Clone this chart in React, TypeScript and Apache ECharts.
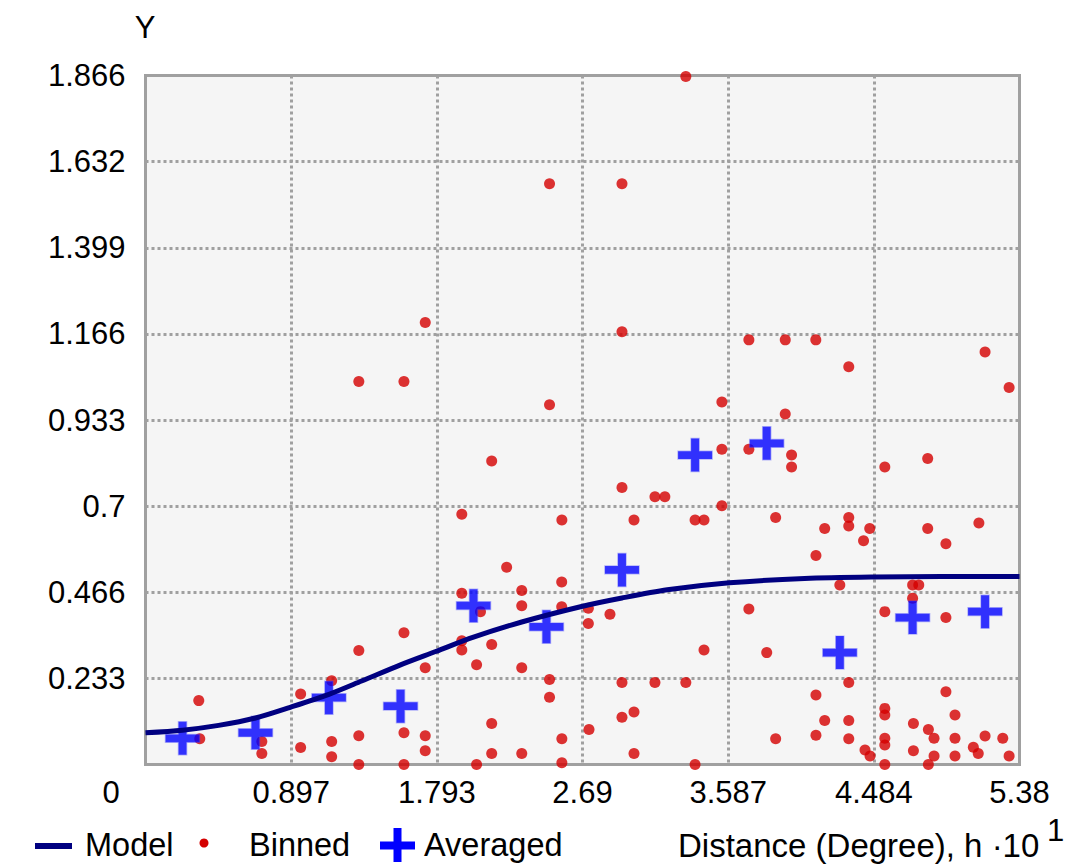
import React, { useEffect, useRef } from "react";
import * as echarts from "echarts";

const X_MAX = 5.38;
const Y_MAX = 1.866;
const xTickLabels = ["0", "0.897", "1.793", "2.69", "3.587", "4.484", "5.38"];
const yTickLabels = ["0", "0.233", "0.466", "0.7", "0.933", "1.166", "1.399", "1.632", "1.866"];

const seriesNames = ["Model", "Binned", "Averaged"];
const xAxisTitle = "Distance (Degree), h \u00b710";
const xAxisExponent = "1";
const yAxisTitle = "Y";

// Model curve
const modelPoints: [number, number][] = [
  [0, 0.086], [0.228, 0.093], [0.45, 0.106], [0.677, 0.126], [0.891, 0.155],
  [1.129, 0.19], [1.33, 0.226], [1.57, 0.27], [1.786, 0.306], [2.019, 0.345],
  [2.316, 0.386], [2.684, 0.428], [2.933, 0.451], [3.212, 0.473], [3.594, 0.492],
  [4.057, 0.504], [4.485, 0.508], [4.902, 0.509], [5.38, 0.509],
];

// Binned semivariance points
const binnedPoints: [number, number][] = [
  [1.722, 1.197], [1.313, 1.037], [1.591, 1.037],
  [3.326, 1.863], [2.487, 1.573], [2.933, 1.573], [2.933, 1.172], [3.714, 1.15],
  [3.938, 1.15], [4.126, 1.15], [4.329, 1.077], [5.168, 1.117], [5.316, 1.021],
  [2.487, 0.974], [3.548, 0.982], [3.938, 0.949],
  [2.131, 0.822], [1.947, 0.678], [2.223, 0.534], [1.947, 0.464], [2.316, 0.471],
  [2.316, 0.43], [2.062, 0.414], [1.591, 0.357], [1.313, 0.309], [1.947, 0.335],
  [1.947, 0.31], [2.131, 0.325], [1.722, 0.262], [2.038, 0.27], [2.316, 0.262],
  [1.146, 0.227], [0.955, 0.191], [0.328, 0.173], [2.131, 0.111], [1.313, 0.078],
  [1.591, 0.086], [1.722, 0.078], [0.334, 0.07], [0.716, 0.062], [1.146, 0.062],
  [0.955, 0.046], [0.716, 0.03], [1.146, 0.021], [1.722, 0.037], [2.131, 0.03],
  [2.316, 0.03], [1.313, 0.0], [1.591, 0.0], [2.038, 0.0],
  [3.548, 0.854], [3.714, 0.854], [3.977, 0.838], [3.977, 0.806], [4.551, 0.806],
  [4.815, 0.829], [2.933, 0.75], [3.136, 0.725], [3.197, 0.725], [3.548, 0.701],
  [2.563, 0.662], [3.007, 0.662], [3.383, 0.662], [3.438, 0.662], [3.879, 0.669],
  [4.329, 0.669], [4.329, 0.646], [4.181, 0.639], [4.458, 0.639], [4.815, 0.639],
  [5.13, 0.654], [4.42, 0.606], [4.927, 0.598], [4.127, 0.566], [2.562, 0.494],
  [4.274, 0.486], [4.722, 0.486], [4.76, 0.486], [4.722, 0.45], [2.562, 0.427],
  [2.726, 0.423], [2.726, 0.382], [2.859, 0.407], [3.714, 0.421], [4.551, 0.414],
  [4.927, 0.398], [3.438, 0.31], [3.824, 0.303], [2.487, 0.23], [2.487, 0.182],
  [2.933, 0.222], [3.136, 0.222], [3.326, 0.222], [4.329, 0.222], [4.127, 0.188],
  [4.927, 0.197], [2.933, 0.128], [3.007, 0.142], [2.73, 0.095], [4.181, 0.119],
  [4.329, 0.119], [4.551, 0.152], [4.551, 0.134], [4.983, 0.134], [4.727, 0.111],
  [4.819, 0.095], [4.854, 0.071], [2.563, 0.07], [3.879, 0.07], [4.127, 0.079],
  [4.329, 0.07], [4.551, 0.071], [4.551, 0.053], [4.983, 0.071], [5.168, 0.077],
  [5.277, 0.071], [3.007, 0.03], [4.429, 0.039], [4.46, 0.023], [4.727, 0.037],
  [4.854, 0.023], [4.983, 0.023], [5.096, 0.047], [5.126, 0.03], [5.316, 0.023],
  [2.563, 0.005], [3.383, 0.0], [4.551, 0.0], [4.819, 0.0],
];

// Averaged points
const averagedPoints: [number, number][] = [
  [0.228, 0.071], [0.677, 0.086], [1.129, 0.181], [1.57, 0.158], [2.019, 0.43],
  [2.468, 0.373], [2.933, 0.527], [3.383, 0.838], [3.824, 0.87], [4.274, 0.303],
  [4.722, 0.398], [5.168, 0.414],
];

const FONT = '"Liberation Sans", Arial, sans-serif';
const TXT = "#000000";
const CROSS = "path://M13,0H21V13H34V21H21V34H13V21H0V13H13Z";

export default function App() {
  const ref = useRef<HTMLDivElement>(null);
  useEffect(() => {
    if (!ref.current) return;
    const chart = echarts.init(ref.current, undefined, { renderer: "svg" });
    const xInt = X_MAX / 6;
    const yInt = Y_MAX / 8;
    const gridLine = { show: true, lineStyle: { color: "#a0a0a0", width: 3, type: [3, 3] as any } };
    chart.setOption({
      animation: false,
      backgroundColor: "#ffffff",
      grid: {
        left: 145.5, top: 75.5, right: 48.5, bottom: 100.5,
        show: true, backgroundColor: "#f5f5f5", borderColor: "#a0a0a0", borderWidth: 3,
        z: 0,
      },
      xAxis: {
        type: "value", min: 0, max: X_MAX, interval: xInt,
        axisLine: { show: false }, axisTick: { show: false },
        splitLine: gridLine,
        axisLabel: {
          showMinLabel: false, margin: 12, color: TXT, fontSize: 31, fontFamily: FONT,
          formatter: (v: number) => xTickLabels[Math.round(v / xInt)] ?? "",
        },
      },
      yAxis: {
        type: "value", min: 0, max: Y_MAX, interval: yInt,
        axisLine: { show: false }, axisTick: { show: false },
        splitLine: gridLine,
        axisLabel: {
          showMinLabel: false, margin: 20, color: TXT, fontSize: 31, fontFamily: FONT,
          formatter: (v: number) => yTickLabels[Math.round(v / yInt)] ?? "",
        },
      },
      series: [
        {
          name: seriesNames[1], type: "scatter", data: binnedPoints, clip: false,
          symbol: "circle", symbolSize: 11, itemStyle: { color: "#d40000" }, z: 3,
        },
        {
          name: seriesNames[2], type: "scatter", data: averagedPoints, clip: false,
          symbol: CROSS, symbolSize: [34, 33],
          itemStyle: { color: "#0000ff", borderColor: "rgba(60,60,255,0.45)", borderWidth: 1.5 }, z: 4,
        },
        {
          name: seriesNames[0], type: "line", data: modelPoints, smooth: 0.3, showSymbol: false,
          lineStyle: { color: "#000080", width: 5 }, z: 5,
        },
      ],
      graphic: [
        { type: "text", x: 145, y: 27, style: { text: yAxisTitle, fill: TXT, font: `31px ${FONT}`, align: "center", verticalAlign: "middle" } },
        { type: "text", x: 111, y: 792, style: { text: xTickLabels[0], fill: TXT, font: `31px ${FONT}`, align: "center", verticalAlign: "middle" } },
        { type: "text", x: 678, y: 845, style: { text: xAxisTitle, fill: TXT, font: `33px ${FONT}`, align: "left", verticalAlign: "middle" } },
        { type: "text", x: 1047, y: 830, style: { text: xAxisExponent, fill: TXT, font: `31px ${FONT}`, align: "left", verticalAlign: "middle" } },
        { type: "rect", shape: { x: 35, y: 843, width: 37, height: 6 }, style: { fill: "#000080" } },
        { type: "text", x: 85, y: 845, style: { text: seriesNames[0], fill: TXT, font: `32.5px ${FONT}`, align: "left", verticalAlign: "middle" } },
        { type: "circle", shape: { cx: 204, cy: 843, r: 4.5 }, style: { fill: "#d40000" } },
        { type: "text", x: 249, y: 845, style: { text: seriesNames[1], fill: TXT, font: `32.5px ${FONT}`, align: "left", verticalAlign: "middle" } },
        { type: "rect", shape: { x: 380, y: 841.5, width: 35, height: 8 }, style: { fill: "#0000ff" } },
        { type: "rect", shape: { x: 393.5, y: 828, width: 8, height: 34 }, style: { fill: "#0000ff" } },
        { type: "text", x: 424, y: 845, style: { text: seriesNames[2], fill: TXT, font: `32.5px ${FONT}`, align: "left", verticalAlign: "middle" } },
      ],
    });
    return () => chart.dispose();
  }, []);
  return <div ref={ref} style={{ position: "fixed", left: 0, top: 0, width: 1068, height: 865 }} />;
}
